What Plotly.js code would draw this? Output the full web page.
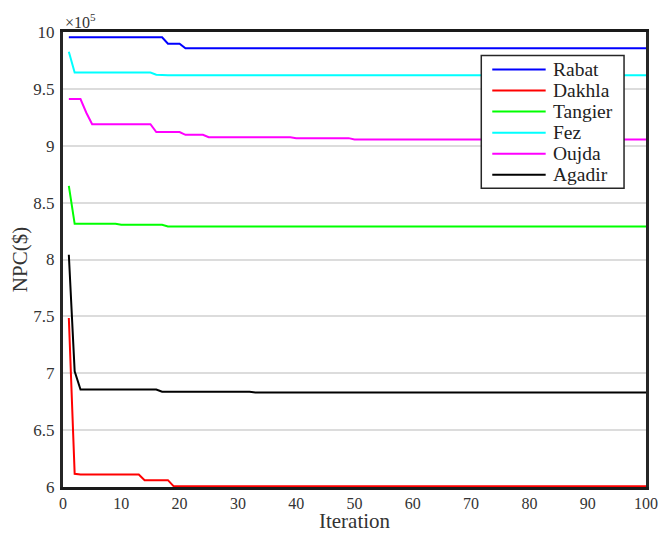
<!DOCTYPE html>
<html>
<head>
<meta charset="utf-8">
<script src="https://cdn.plot.ly/plotly-3.0.1.min.js"></script>
<style>html,body{margin:0;padding:0;background:#fff;}#chart{width:671px;height:533px;}</style>
</head>
<body>
<div id="chart"></div>
<script>
// NPC values in units of 1e5 $
const seriesNames = ["Rabat", "Dakhla", "Tangier", "Fez", "Oujda", "Agadir"];
const seriesColors = ["#0000ff", "#ff0000", "#00ff00", "#00ffff", "#ff00ff", "#000000"];

const rabat = [
9.953,9.953,9.953,9.953,9.953,9.953,9.953,9.953,9.953,9.953,
9.953,9.953,9.953,9.953,9.953,9.953,9.953,9.897,9.897,9.897,
9.857,9.857,9.857,9.857,9.857,9.857,9.857,9.857,9.857,9.857,
9.857,9.857,9.857,9.857,9.857,9.857,9.857,9.857,9.857,9.857,
9.857,9.857,9.857,9.857,9.857,9.857,9.857,9.857,9.857,9.857,
9.857,9.857,9.857,9.857,9.857,9.857,9.857,9.857,9.857,9.857,
9.857,9.857,9.857,9.857,9.857,9.857,9.857,9.857,9.857,9.857,
9.857,9.857,9.857,9.857,9.857,9.857,9.857,9.857,9.857,9.857,
9.857,9.857,9.857,9.857,9.857,9.857,9.857,9.857,9.857,9.857,
9.857,9.857,9.857,9.857,9.857,9.857,9.857,9.857,9.857,9.857
];
const dakhla = [
7.486,6.116,6.11,6.11,6.11,6.11,6.11,6.11,6.11,6.11,
6.11,6.11,6.11,6.06,6.06,6.06,6.06,6.06,6.006,6.006,
6.006,6.006,6.006,6.006,6.006,6.006,6.006,6.006,6.006,6.006,
6.006,6.006,6.006,6.006,6.006,6.006,6.006,6.006,6.006,6.006,
6.006,6.006,6.006,6.006,6.006,6.006,6.006,6.006,6.006,6.006,
6.006,6.006,6.006,6.006,6.006,6.006,6.006,6.006,6.006,6.006,
6.006,6.006,6.006,6.006,6.006,6.006,6.006,6.006,6.006,6.006,
6.006,6.006,6.006,6.006,6.006,6.006,6.006,6.006,6.006,6.006,
6.006,6.006,6.006,6.006,6.006,6.006,6.006,6.006,6.006,6.006,
6.006,6.006,6.006,6.006,6.006,6.006,6.006,6.006,6.006,6.006
];
const tangier = [
8.648,8.314,8.314,8.314,8.314,8.314,8.314,8.314,8.314,8.305,
8.305,8.305,8.305,8.305,8.305,8.305,8.305,8.29,8.29,8.29,
8.29,8.29,8.29,8.29,8.29,8.29,8.29,8.29,8.29,8.29,
8.29,8.29,8.29,8.29,8.29,8.29,8.29,8.29,8.29,8.29,
8.29,8.29,8.29,8.29,8.29,8.29,8.29,8.29,8.29,8.29,
8.29,8.29,8.29,8.29,8.29,8.29,8.29,8.29,8.29,8.29,
8.29,8.29,8.29,8.29,8.29,8.29,8.29,8.29,8.29,8.29,
8.29,8.29,8.29,8.29,8.29,8.29,8.29,8.29,8.29,8.29,
8.29,8.29,8.29,8.29,8.29,8.29,8.29,8.29,8.29,8.29,
8.29,8.29,8.29,8.29,8.29,8.29,8.29,8.29,8.29,8.29
];
const fez = [
9.827,9.643,9.643,9.643,9.643,9.643,9.643,9.643,9.643,9.643,
9.643,9.643,9.643,9.643,9.643,9.625,9.62,9.62,9.62,9.62,
9.62,9.62,9.62,9.62,9.62,9.62,9.62,9.62,9.62,9.62,
9.62,9.62,9.62,9.62,9.62,9.62,9.62,9.62,9.62,9.62,
9.62,9.62,9.62,9.62,9.62,9.62,9.62,9.62,9.62,9.62,
9.62,9.62,9.62,9.62,9.62,9.62,9.62,9.62,9.62,9.62,
9.62,9.62,9.62,9.62,9.62,9.62,9.62,9.62,9.62,9.62,
9.62,9.62,9.62,9.62,9.62,9.62,9.62,9.62,9.62,9.62,
9.62,9.62,9.62,9.62,9.62,9.62,9.62,9.62,9.62,9.62,
9.62,9.62,9.62,9.62,9.62,9.62,9.62,9.62,9.62,9.62
];
const oujda = [
9.41,9.41,9.41,9.29,9.19,9.19,9.19,9.19,9.19,9.19,
9.19,9.19,9.19,9.19,9.19,9.12,9.12,9.12,9.12,9.12,
9.096,9.096,9.096,9.096,9.075,9.075,9.075,9.075,9.075,9.075,
9.075,9.075,9.075,9.075,9.075,9.075,9.075,9.075,9.075,9.067,
9.067,9.067,9.067,9.067,9.067,9.067,9.067,9.067,9.067,9.055,
9.055,9.055,9.055,9.055,9.055,9.055,9.055,9.055,9.055,9.055,
9.055,9.055,9.055,9.055,9.055,9.055,9.055,9.055,9.055,9.055,
9.055,9.055,9.055,9.055,9.055,9.055,9.055,9.055,9.055,9.055,
9.055,9.055,9.055,9.055,9.055,9.055,9.055,9.055,9.055,9.055,
9.055,9.055,9.055,9.055,9.055,9.055,9.055,9.055,9.055,9.055
];
const agadir = [
8.042,7.018,6.857,6.857,6.857,6.857,6.857,6.857,6.857,6.857,
6.857,6.857,6.857,6.857,6.857,6.857,6.837,6.837,6.837,6.837,
6.837,6.837,6.837,6.837,6.837,6.837,6.837,6.837,6.837,6.837,
6.837,6.837,6.83,6.83,6.83,6.83,6.83,6.83,6.83,6.83,
6.83,6.83,6.83,6.83,6.83,6.83,6.83,6.83,6.83,6.83,
6.83,6.83,6.83,6.83,6.83,6.83,6.83,6.83,6.83,6.83,
6.83,6.83,6.83,6.83,6.83,6.83,6.83,6.83,6.83,6.83,
6.83,6.83,6.83,6.83,6.83,6.83,6.83,6.83,6.83,6.83,
6.83,6.83,6.83,6.83,6.83,6.83,6.83,6.83,6.83,6.83,
6.83,6.83,6.83,6.83,6.83,6.83,6.83,6.83,6.83,6.83
];

const yTickVals = [6, 6.5, 7, 7.5, 8, 8.5, 9, 9.5, 10];
const yTickText = ["6", "6.5", "7", "7.5", "8", "8.5", "9", "9.5", "10"];
const xTickVals = [0, 10, 20, 30, 40, 50, 60, 70, 80, 90, 100];

const seriesValues = [rabat, dakhla, tangier, fez, oujda, agadir];
const iterations = rabat.map((_, i) => i + 1);

const FONT = "Liberation Serif";

const traces = seriesNames.map((name, k) => ({
  type: "scatter",
  mode: "lines",
  name: name,
  x: iterations,
  y: seriesValues[k],
  line: {color: seriesColors[k], width: 2},
  showlegend: false
}));

// Hand-drawn legend box (paper coordinates), to match the compact original legend
const plotL = 62.5, plotR = 646.5, plotT = 32, plotB = 487.5;
const px2x = p => (p - plotL) / (plotR - plotL);
const py2y = p => 1 - (p - plotT) / (plotB - plotT);

const shapes = [{
  type: "rect", xref: "paper", yref: "paper", layer: "above",
  x0: px2x(481.5), x1: px2x(624.5), y0: py2y(188.5), y1: py2y(55.5),
  fillcolor: "#ffffff", line: {color: "#262626", width: 1.5}
}];
const annotations = [{
  xref: "paper", yref: "paper",
  x: 0, y: 1,
  xanchor: "left", yanchor: "bottom",
  yshift: -1,
  showarrow: false,
  text: "×10<sup>5</sup>",
  font: {family: FONT, size: 16, color: "#333333"}
}];
seriesNames.forEach((name, k) => {
  const yy = py2y(69.5 + k * 21.1);
  shapes.push({
    type: "line", xref: "paper", yref: "paper", layer: "above",
    x0: px2x(492.5), x1: px2x(546), y0: yy, y1: yy,
    line: {color: seriesColors[k], width: 2}
  });
  annotations.push({
    xref: "paper", yref: "paper", x: px2x(552), y: yy,
    xanchor: "left", yanchor: "middle", showarrow: false,
    borderpad: 0,
    text: name, font: {family: FONT, size: 19.5, color: "#222222"}
  });
});

const layout = {
  width: 671,
  height: 533,
  margin: {l: plotL, r: 671 - plotR, t: plotT, b: 533 - plotB},
  paper_bgcolor: "#ffffff",
  plot_bgcolor: "#ffffff",
  font: {family: FONT, color: "#333333", size: 16},
  showlegend: false,
  xaxis: {
    range: [0, 100],
    tickvals: xTickVals,
    ticks: "",
    showgrid: false,
    zeroline: false,
    showline: true,
    linecolor: "#1a1a1a",
    linewidth: 3,
    mirror: true,
    layer: "below traces",
    tickfont: {family: FONT, size: 16, color: "#333333"},
    title: {text: "Iteration", font: {family: FONT, size: 21, color: "#333333"}, standoff: 4}
  },
  yaxis: {
    range: [6, 10],
    tickvals: yTickVals,
    ticktext: yTickText,
    ticks: "outside",
    ticklen: 2,
    tickcolor: "rgba(0,0,0,0)",
    showgrid: true,
    gridcolor: "#dcdcdc",
    gridwidth: 2,
    zeroline: false,
    showline: true,
    linecolor: "#262626",
    linewidth: 3,
    mirror: true,
    layer: "below traces",
    tickfont: {family: FONT, size: 17, color: "#333333"},
    title: {text: "NPC($)", font: {family: FONT, size: 21, color: "#333333"}, standoff: 0}
  },
  shapes: shapes,
  annotations: annotations
};

Plotly.newPlot("chart", traces, layout, {displayModeBar: false, staticPlot: true});
</script>
</body>
</html>
